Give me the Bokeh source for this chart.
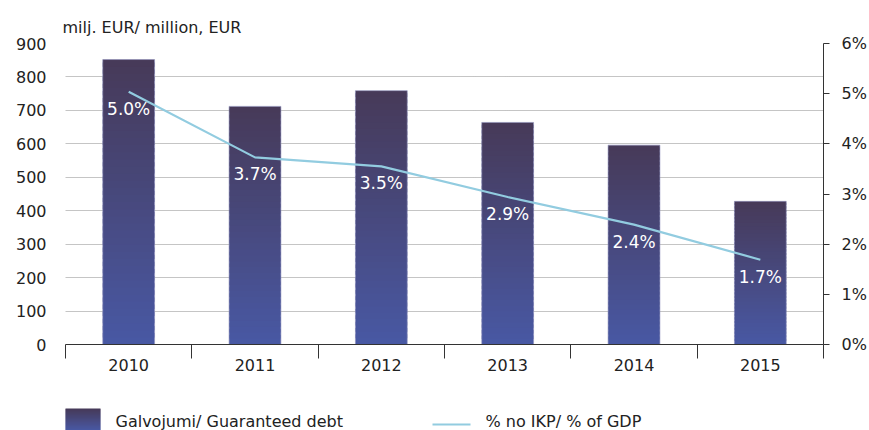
from bokeh.plotting import figure
from bokeh.layouts import column
from bokeh.models import (ColumnDataSource, Range1d, LinearAxis, FixedTicker,
                          PrintfTickFormatter, Title)
from bokeh.embed import file_html
from bokeh.resources import INLINE
from bokeh.core.properties import value

years = ["2010", "2011", "2012", "2013", "2014", "2015"]
debt = [852, 712, 759, 664, 596, 428]
gdp_pct = [5.04, 3.73, 3.55, 2.94, 2.39, 1.69]
left_ticks = [0, 100, 200, 300, 400, 500, 600, 700, 800, 900]
right_ticks = [0, 1, 2, 3, 4, 5, 6]
series_names = ["Galvojumi/ Guaranteed debt", "% no IKP/ % of GDP"]

FONT = "DejaVu Sans"
TXT = "#222222"
TOP_C = (71, 58, 89)
BOT_C = (72, 88, 163)
LINE_C = "#92cce0"
N = 40
BAR_W = 0.41
FRAME_L, FRAME_R = 65, 823


def grad(t):
    c = tuple(int(round(BOT_C[j] + (TOP_C[j] - BOT_C[j]) * t)) for j in range(3))
    return "#%02x%02x%02x" % c


xc = [i + 0.5 for i in range(len(years))]

# gradient slices for bars
sx, stop, sbot, scol = [], [], [], []
for x, v in zip(xc, debt):
    for k in range(N):
        sx.append(x)
        sbot.append(v * k / N)
        stop.append(min(v, v * (k + 1.6) / N))
        scol.append(grad(k / (N - 1)))
slices = ColumnDataSource(dict(x=sx, top=stop, bottom=sbot, color=scol))

p = figure(width=869, height=384, output_backend="svg", toolbar_location=None,
           x_range=Range1d(0, len(years)), y_range=Range1d(0, 900),
           min_border_left=FRAME_L, min_border_right=869 - FRAME_R,
           min_border_top=43, min_border_bottom=40)
p.outline_line_color = None
p.background_fill_color = "white"
p.border_fill_color = "white"

p.extra_y_ranges = {"pct": Range1d(0, 6)}

p.title = Title(text="milj. EUR/ million, EUR", align="left", offset=-3,
                text_font=FONT, text_font_size="16px", text_font_style="normal",
                text_color=TXT, standoff=14)

p.vbar(x="x", top="top", bottom="bottom", width=BAR_W, source=slices,
       fill_color="color", line_color=None)
p.vbar(x=xc, top=debt, width=BAR_W, fill_alpha=0, line_color="#8d90ba",
       line_alpha=0.6, line_width=1)

line_src = ColumnDataSource(dict(x=xc, y=gdp_pct, lab=["%.1f%%" % v for v in gdp_pct]))
p.line(x="x", y="y", source=line_src, y_range_name="pct",
       line_color=LINE_C, line_width=2.2)
p.text(x="x", y="y", text="lab", source=line_src, y_range_name="pct",
       text_color="white", text_font=value(FONT), text_font_size="17px",
       text_align="center", text_baseline="middle", y_offset=17)

p.xaxis.visible = False
p.yaxis.visible = False
p.xgrid.visible = False

xa = LinearAxis(ticker=FixedTicker(ticks=xc, minor_ticks=list(range(len(years) + 1))),
                major_label_overrides={x: y for x, y in zip(xc, years)})
xa.axis_line_color = "#333333"
xa.major_tick_out = 0
xa.major_tick_in = 0
xa.minor_tick_out = 14
xa.minor_tick_in = 0
xa.minor_tick_line_color = "#333333"
xa.major_label_standoff = 0
xa.major_label_text_font = FONT
xa.major_label_text_font_size = "16px"
xa.major_label_text_color = TXT
p.add_layout(xa, "below")

ya = LinearAxis(ticker=FixedTicker(ticks=left_ticks))
ya.axis_line_color = None
ya.major_tick_line_color = None
ya.minor_tick_line_color = None
ya.major_label_standoff = 13
ya.major_label_text_font = FONT
ya.major_label_text_font_size = "16px"
ya.major_label_text_color = TXT
p.add_layout(ya, "left")

ra = LinearAxis(y_range_name="pct", ticker=FixedTicker(ticks=right_ticks),
                formatter=PrintfTickFormatter(format="%d%%"))
ra.axis_line_color = "#333333"
ra.major_tick_out = 6
ra.major_tick_in = 0
ra.major_tick_line_color = "#333333"
ra.minor_tick_line_color = None
ra.major_label_standoff = 12
ra.major_label_text_font = FONT
ra.major_label_text_font_size = "16px"
ra.major_label_text_color = TXT
p.add_layout(ra, "right")

p.ygrid.ticker = FixedTicker(ticks=left_ticks)
p.ygrid.grid_line_color = "#8a8a8a"
p.ygrid.grid_line_dash = "1 1"
p.ygrid.grid_line_width = 1

# legend strip below the chart; its frame is aligned with the chart frame,
# so the x range is given in page pixels of that frame
LW, LH = 869, 46
lg = figure(width=LW, height=LH, output_backend="svg", toolbar_location=None,
            x_range=Range1d(FRAME_L, FRAME_R), y_range=Range1d(0, LH),
            x_axis_location=None, y_axis_location=None, min_border=0)
lg.outline_line_color = None
lg.xgrid.visible = False
lg.ygrid.visible = False
SW_X0, SW_X1, SW_H = 62, 100, 22
M = 22
lg.quad(left=[SW_X0] * M, right=[SW_X1] * M,
        bottom=[SW_H * k / M for k in range(M)],
        top=[min(SW_H, SW_H * (k + 1.6) / M) for k in range(M)],
        fill_color=[grad(k / (M - 1)) for k in range(M)], line_color=None)
lg.line(x=[432, 470], y=[6, 6], line_color=LINE_C, line_width=2.2)
lg.text(x=[115, 485], y=[9, 9], text=series_names, text_color=TXT,
        text_font=value(FONT), text_font_size="16px",
        text_align="left", text_baseline="middle")

open("out.html", "w").write(file_html(column(p, lg, spacing=0), INLINE))
